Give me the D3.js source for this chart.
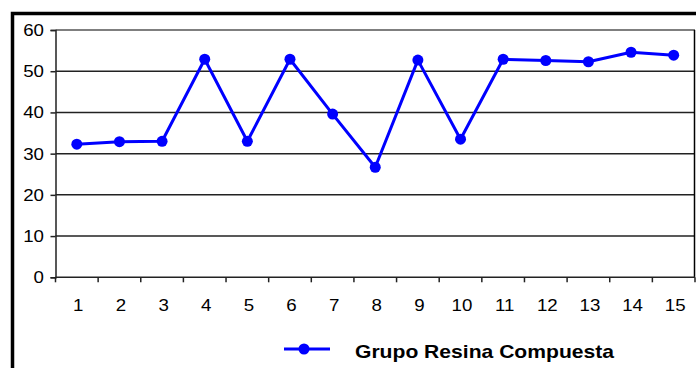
<!DOCTYPE html>
<html>
<head>
<meta charset="utf-8">
<script src="https://cdn.jsdelivr.net/npm/d3@7"></script>
<style>
  html, body { margin: 0; padding: 0; background: #fff; }
  svg { display: block; font-family: Arial, "Liberation Sans", sans-serif; }
</style>
</head>
<body>
<svg id="chart" width="696" height="368"></svg>
<script>
// Sample numbers along the x axis
const categories = ["1","2","3","4","5","6","7","8","9","10","11","12","13","14","15"];
// Measured values for the composite resin group
const values = [32.3, 32.9, 33.0, 52.9, 33.0, 52.9, 39.6, 26.7, 52.7, 33.5, 52.9, 52.6, 52.3, 54.6, 53.9];
const yTicks = [0, 10, 20, 30, 40, 50, 60];
const seriesName = "Grupo Resina Compuesta";

const svg = d3.select("#chart");
const margin = { left: 55.5, right: 1, top: 30, bottom: 277.3 };
const FONT = "Arial, 'Liberation Sans', sans-serif";
const stretch = 1.1; // labels are drawn slightly widened
const labelSize = 17;

const x = d3.scaleBand().domain(categories).range([margin.left, 696 - margin.right]);
const y = d3.scaleLinear().domain([0, 60]).range([margin.bottom, margin.top]);

// Outer frame (thick black, running off the right and bottom edges)
svg.append("path")
  .attr("d", "M12.5,370 L12.5,13.5 L700,13.5")
  .attr("fill", "none").attr("stroke", "#000").attr("stroke-width", 3.5);

// Horizontal gridlines
svg.append("g").selectAll("line").data(yTicks.filter(d => d > 0)).join("line")
  .attr("x1", margin.left).attr("x2", x.range()[1])
  .attr("y1", d => y(d)).attr("y2", d => y(d))
  .attr("stroke", d => d === 60 ? "#555" : "#222").attr("stroke-width", 1.5);

// Right edge of the plot area
svg.append("line")
  .attr("x1", x.range()[1] - 0.5).attr("x2", x.range()[1] - 0.5)
  .attr("y1", y(60)).attr("y2", y(0))
  .attr("stroke", "#000").attr("stroke-width", 1.5);

// Y axis
const yAxis = svg.append("g")
  .attr("transform", `translate(${margin.left},0)`)
  .call(d3.axisLeft(y).tickValues(yTicks).tickSize(5).tickPadding(6));
yAxis.select(".domain").attr("stroke", "#222").attr("stroke-width", 1.5);
yAxis.selectAll(".tick line").attr("stroke", "#222").attr("stroke-width", 1.5);
yAxis.selectAll("text")
  .attr("font-size", labelSize).attr("fill", "#000").attr("font-family", FONT)
  .attr("x", -11.5 / stretch)
  .attr("transform", `scale(${stretch},1)`);

// X axis: ticks fall between categories
const xAxisG = svg.append("g").attr("transform", `translate(0,${y(0)})`);
xAxisG.append("line")
  .attr("x1", margin.left).attr("x2", x.range()[1])
  .attr("stroke", "#222").attr("stroke-width", 1.5);
const boundaries = categories.map(c => x(c)).concat([x.range()[1]]);
xAxisG.selectAll("line.tk").data(boundaries).join("line").attr("class", "tk")
  .attr("x1", d => d).attr("x2", d => d).attr("y1", 0).attr("y2", 5)
  .attr("stroke", "#222").attr("stroke-width", 1.5);
xAxisG.selectAll("text").data(categories).join("text")
  .attr("transform", d => `translate(${x(d) + x.bandwidth() / 2 + 1.5},33.5) scale(${stretch},1)`)
  .attr("text-anchor", "middle").attr("font-size", labelSize).attr("fill", "#000")
  .text(d => d);

// Series line and markers
const cx = (d, i) => x(categories[i]) + x.bandwidth() / 2;
const line = d3.line().x((d, i) => cx(d, i)).y(d => y(d));
svg.append("path").datum(values)
  .attr("d", line).attr("fill", "none")
  .attr("stroke", "#0000ff").attr("stroke-width", 3).attr("stroke-linejoin", "round");
svg.append("g").selectAll("circle").data(values).join("circle")
  .attr("cx", (d, i) => cx(d, i)).attr("cy", d => y(d)).attr("r", 5.5)
  .attr("fill", "#0000ff");

// Legend
const leg = svg.append("g").attr("transform", "translate(284,349)");
leg.append("line").attr("x1", 0).attr("x2", 46).attr("y1", 0).attr("y2", 0)
  .attr("stroke", "#0000ff").attr("stroke-width", 3);
leg.append("circle").attr("cx", 20).attr("cy", 0).attr("r", 5.5).attr("fill", "#0000ff");
leg.append("text").attr("x", 71).attr("y", 8.5)
  .attr("font-size", 18.5).attr("font-weight", "bold").attr("fill", "#000")
  .attr("textLength", 259).attr("lengthAdjust", "spacingAndGlyphs")
  .text(seriesName);
</script>
</body>
</html>
